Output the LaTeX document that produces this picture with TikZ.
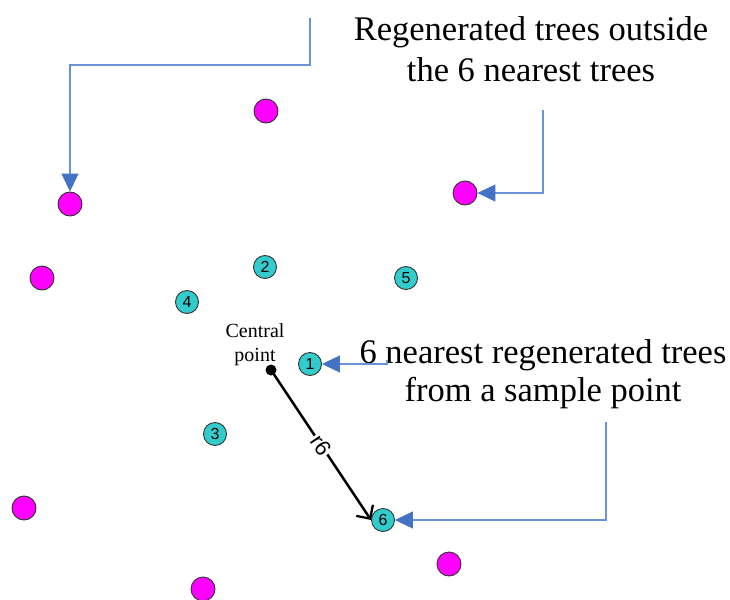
\documentclass[tikz,border=0pt]{standalone}
\usepackage{fontspec}
\setmainfont{Liberation Serif}
\newfontfamily\arialf{Liberation Sans}
\usetikzlibrary{arrows.meta}
\definecolor{mag}{HTML}{FF00FF}
\definecolor{cyn}{HTML}{33CCCC}
\definecolor{bline}{HTML}{6A92D8}
\definecolor{bhead}{HTML}{4472C4}
\begin{document}
\begin{tikzpicture}[x=1pt,y=-1pt,
  outer/.style={circle,draw=black!80,line width=0.9pt,fill=mag,minimum size=24pt,inner sep=0pt},
  near/.style={circle,draw=black!80,line width=0.9pt,fill=cyn,minimum size=23pt,inner sep=0pt,font=\arialf\fontsize{16}{16}\selectfont},
  callout/.style={draw=bline,line width=1.2pt,-{Triangle[length=18pt,width=17pt,color=bhead]}},
  bigtext/.style={font=\fontsize{34.5}{40}\selectfont,anchor=base,inner sep=0pt},
  smalltext/.style={font=\fontsize{20}{24}\selectfont,anchor=base,inner sep=0pt}]
\useasboundingbox (0,0) rectangle (730,599);

% outer (magenta) trees
\node[outer] (m1) at (266,111) {};
\node[outer] (m2) at (70,204) {};
\node[outer] (m3) at (465,193) {};
\node[outer] (m4) at (42,278) {};
\node[outer] (m5) at (24,508) {};
\node[outer] (m6) at (203,589) {};
\node[outer] (m7) at (449,564) {};

% nearest (cyan) trees
\node[near] (n1) at (310,364) {1};
\node[near] (n2) at (265,267) {2};
\node[near] (n3) at (215,434) {3};
\node[near] (n4) at (187,302) {4};
\node[near] (n5) at (406,278) {5};
\node[near] (n6) at (383,520) {6};

% central point
\node[circle,fill=black,minimum size=11pt,inner sep=0pt] (cp) at (271,370) {};
\node[smalltext] (cpl1) at (255,337) {Central};
\node[smalltext] (cpl2) at (255,361) {point};

% radius r6
\draw[line width=2.5pt,-{Straight Barb[length=10pt,width=20pt,line width=2.3pt]}] (cp.center) -- (n6.west)
  node[midway,rotate=-56,fill=white,inner sep=1.5pt,font=\arialf\fontsize{22}{22}\selectfont] (r6) {r6};

% texts
\node[bigtext] (t1a) at (531,41) {Regenerated trees outside};
\node[bigtext] (t1b) at (531,82) {the 6 nearest trees};
\node[bigtext] (t2a) at (543,363) {6 nearest regenerated trees};
\node[bigtext] (t2b) at (543,401) {from a sample point};

% callout connectors
\coordinate (s1) at (310,18);
\coordinate (s2) at (543,110);
\coordinate (s3) at (387,360);
\coordinate (s4) at (606,422);
\draw[callout] (s1) -- (310,65) -- (70,65) -- (m2.north);
\draw[callout] (s2) -- (543,193) -- (m3.east);
\draw[callout] (s3) -- (387,364) -- (n1.east);
\draw[callout] (s4) -- (606,520) -- (n6.east);
\end{tikzpicture}
\end{document}
